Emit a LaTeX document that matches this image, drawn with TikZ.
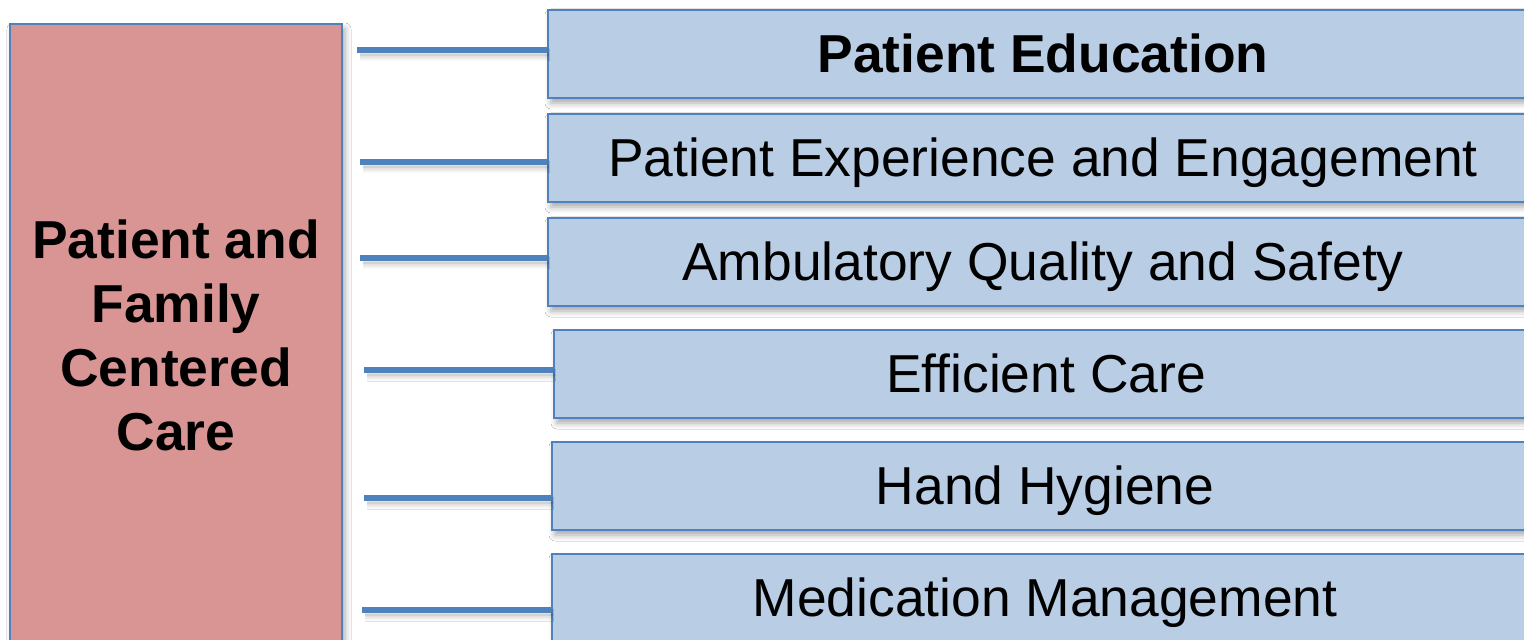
\documentclass[tikz,border=0pt]{standalone}
\usepackage{fontspec}
\setmainfont{Liberation Sans}
\usetikzlibrary{shadows.blur}
\definecolor{hubfill}{HTML}{D99594}
\definecolor{itemfill}{HTML}{B9CDE5}
\definecolor{edgeblue}{HTML}{4F81BD}
\tikzset{
  softshadow/.style={blur shadow={shadow xshift=1.5pt, shadow yshift=-2.5pt, shadow blur radius=3pt, shadow opacity=35}},
  hub/.style={draw=edgeblue, line width=1.4pt, fill=hubfill, rectangle, inner sep=0pt,
    minimum width=166pt, minimum height=311pt, softshadow,
    font=\fontsize{26.7}{32}\selectfont\bfseries, align=center},
  item/.style={draw=edgeblue, line width=1.4pt, fill=itemfill, rectangle, inner sep=0pt,
    minimum height=44pt, text height=18.5pt, text depth=0pt, softshadow,
    font=\fontsize{26.7}{32}\selectfont},
  conn/.style={draw=edgeblue, line width=2.6pt, softshadow},
}
\begin{document}
\begin{tikzpicture}[x=0.5pt, y=-0.5pt]
  \useasboundingbox (0,0) rectangle (1524,640);
  \clip (0,0) rectangle (1524,640);
  \fill[white] (0,0) rectangle (1524,640);

  % central theme
  \node[hub] (hub) at (176,335) {Patient and\\Family\\Centered\\Care};

  % focus areas
  \node[item, minimum width=495pt] (b1) at (1043,54)  {\bfseries Patient Education};
  \node[item, minimum width=495pt] (b2) at (1043,158) {Patient Experience and Engagement};
  \node[item, minimum width=495pt] (b3) at (1043,262) {Ambulatory Quality and Safety};
  \node[item, minimum width=492pt] (b4) at (1046,374) {Efficient Care};
  \node[item, minimum width=493pt] (b5) at (1045,486) {Hand Hygiene};
  \node[item, minimum width=493pt] (b6) at (1045,598) {Medication Management};

  % free ends of the connectors
  \coordinate (s1) at (357,50);
  \coordinate (s2) at (360,162);
  \coordinate (s3) at (360,258);
  \coordinate (s4) at (364,370);
  \coordinate (s5) at (364,498);
  \coordinate (s6) at (362,610);

  \foreach \i in {1,...,6} {
    \draw[conn] (s\i) -- (s\i -| b\i.west);
  }
\end{tikzpicture}
\end{document}
